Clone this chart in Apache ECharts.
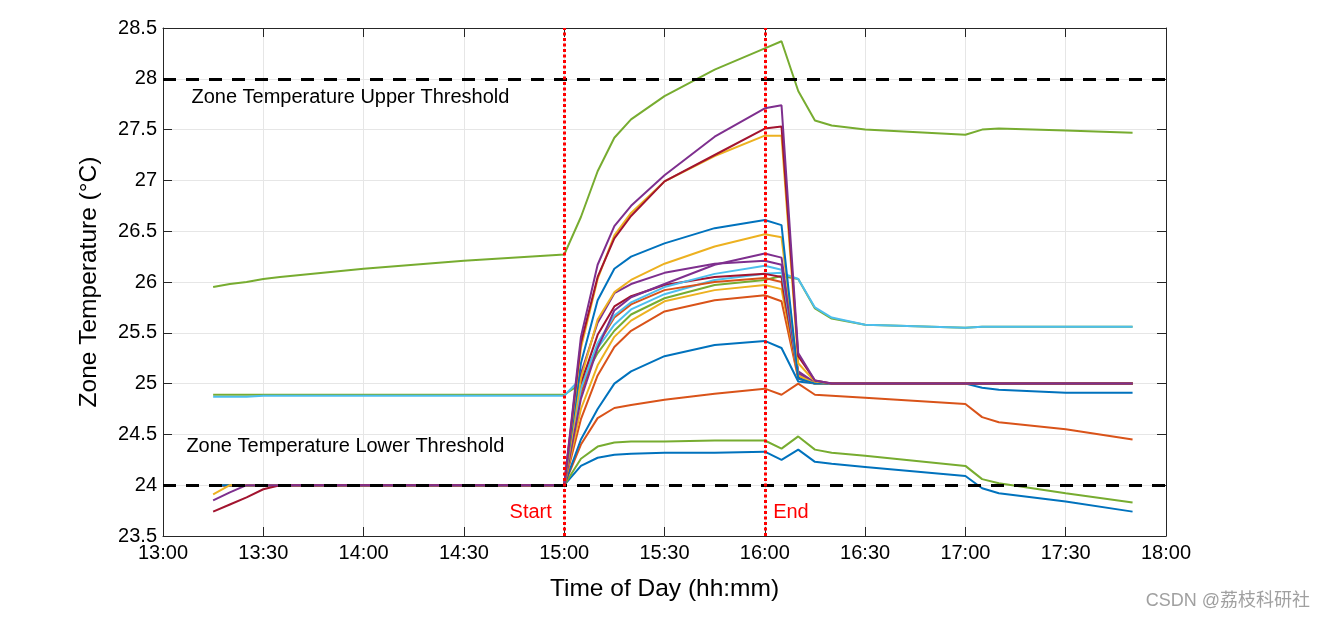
<!DOCTYPE html>
<html><head><meta charset="utf-8">
<script src="https://cdn.jsdelivr.net/npm/echarts@6/dist/echarts.min.js"></script>
<style>html,body{margin:0;padding:0;background:#fff}#c{width:1325px;height:620px}</style>
</head><body><div id="c"></div>
<script>
// ---- data ----
const times = ['13:15','13:20','13:25','13:30','13:35','14:00','14:30','15:00','15:05','15:10','15:15','15:20','15:30','15:45','16:00','16:05','16:10','16:15','16:20','16:30','17:00','17:05','17:10','17:30','17:50'];
const xTickLabels = ['13:00','13:30','14:00','14:30','15:00','15:30','16:00','16:30','17:00','17:30','18:00'];
const yTickLabels = ['23.5','24','24.5','25','25.5','26','26.5','27','27.5','28','28.5'];

const greenTop   = [25.95,25.98,26.00,26.03,26.05,26.13,26.21,26.27, 26.64,27.09,27.42,27.60,27.83,28.09,28.30,28.37, 27.88,27.59,27.54,27.50, 27.45,27.50,27.51,27.49,27.47];
const purpleTop  = [23.85,23.93,24.00,24.00,24.00,24.00,24.00,24.00, 25.46,26.17,26.55,26.75,27.05,27.43,27.71,27.74, 25.30,25.03,25.00,25.00, 25.00,25.00,25.00,25.00,25.00];
const darkRedTop = [23.74,23.81,23.88,23.96,24.00,24.00,24.00,24.00, 25.40,26.05,26.43,26.65,26.99,27.25,27.51,27.53, 25.27,25.03,25.00,25.00, 25.00,25.00,25.00,25.00,25.00];
const yellowTop  = [23.91,24.00,24.00,24.00,24.00,24.00,24.00,24.00, 25.35,26.03,26.46,26.68,26.99,27.24,27.44,27.44, 25.20,25.02,25.00,25.00, 25.00,25.00,25.00,25.00,25.00];
const blue1      = [24.00,24.00,24.00,24.00,24.00,24.00,24.00,24.00, 25.20,25.82,26.13,26.25,26.38,26.53,26.61,26.56, 25.05,25.00,25.00,25.00, 25.00,25.00,25.00,25.00,25.00];
const yellow2    = [24.00,24.00,24.00,24.00,24.00,24.00,24.00,24.00, 25.05,25.63,25.90,26.02,26.18,26.35,26.47,26.44, 25.08,25.00,25.00,25.00, 25.00,25.00,25.00,25.00,25.00];
const purpleB    = [24.00,24.00,24.00,24.00,24.00,24.00,24.00,24.00, 24.85,25.35,25.72,25.85,25.98,26.17,26.28,26.24, 25.12,25.01,25.00,25.00, 25.00,25.00,25.00,25.00,25.00];
const purpleA    = [24.00,24.00,24.00,24.00,24.00,24.00,24.00,24.00, 25.10,25.60,25.89,25.98,26.09,26.18,26.21,26.17, 25.10,25.01,25.00,25.00, 25.00,25.00,25.00,25.00,25.00];
const lightBlue1 = [24.00,24.00,24.00,24.00,24.00,24.00,24.00,24.00, 24.95,25.40,25.67,25.80,25.95,26.08,26.16,26.12, 25.08,25.00,25.00,25.00, 25.00,25.00,25.00,25.00,25.00];
const darkRed2   = [24.00,24.00,24.00,24.00,24.00,24.00,24.00,24.00, 25.00,25.48,25.76,25.86,25.97,26.05,26.08,26.05, 25.07,25.00,25.00,25.00, 25.00,25.00,25.00,25.00,25.00];
const orange2    = [24.00,24.00,24.00,24.00,24.00,24.00,24.00,24.00, 24.90,25.38,25.65,25.78,25.92,26.00,26.04,26.00, 25.06,25.00,25.00,25.00, 25.00,25.00,25.00,25.00,25.00];
const lightBlue2 = [24.87,24.87,24.87,24.88,24.88,24.88,24.88,24.88, 25.05,25.35,25.58,25.73,25.88,26.02,26.08,26.09, 26.03,25.75,25.65,25.58, 25.55,25.56,25.56,25.56,25.56];
const green2     = [24.89,24.89,24.89,24.89,24.89,24.89,24.89,24.89, 25.00,25.30,25.52,25.68,25.84,25.97,26.02,26.06, 26.03,25.74,25.64,25.58, 25.55,25.56,25.56,25.56,25.56];
const yellow3    = [24.00,24.00,24.00,24.00,24.00,24.00,24.00,24.00, 24.75,25.18,25.46,25.62,25.81,25.92,25.97,25.93, 25.06,25.00,25.00,25.00, 25.00,25.00,25.00,25.00,25.00];
const orange3    = [24.00,24.00,24.00,24.00,24.00,24.00,24.00,24.00, 24.65,25.08,25.36,25.52,25.71,25.82,25.87,25.81, 25.05,25.00,25.00,25.00, 25.00,25.00,25.00,25.00,25.00];
const blue2      = [24.00,24.00,24.00,24.00,24.00,24.00,24.00,24.00, 24.45,24.75,25.00,25.12,25.27,25.38,25.42,25.35, 25.02,25.00,25.00,25.00, 25.00,24.96,24.94,24.91,24.91];
const orange4    = [24.00,24.00,24.00,24.00,24.00,24.00,24.00,24.00, 24.40,24.66,24.76,24.79,24.84,24.90,24.95,24.89, 25.00,24.89,24.88,24.86, 24.80,24.67,24.62,24.55,24.45];
const green3     = [24.00,24.00,24.00,24.00,24.00,24.00,24.00,24.00, 24.26,24.38,24.42,24.43,24.43,24.44,24.44,24.36, 24.48,24.35,24.32,24.29, 24.19,24.06,24.02,23.92,23.83];
const blue3      = [24.00,24.00,24.00,24.00,24.00,24.00,24.00,24.00, 24.19,24.27,24.30,24.31,24.32,24.32,24.33,24.25, 24.35,24.23,24.21,24.18, 24.09,23.97,23.92,23.84,23.74];

const upperThreshold = 28;
const lowerThreshold = 24;
const startTime = '15:00';
const endTime = '16:00';

// ---- colours (MATLAB default order) ----
const C = {blue:'#0072BD', orange:'#D95319', yellow:'#EDB120', purple:'#7E2F8E', green:'#77AC30', cyan:'#4DBEEE', red:'#A2142F'};

const seriesDefs = [
  ['blue3', blue3, C.blue], ['green3', green3, C.green], ['orange4', orange4, C.orange],
  ['blue2', blue2, C.blue], ['orange3', orange3, C.orange], ['yellow3', yellow3, C.yellow],
  ['green2', green2, C.green], ['lightBlue2', lightBlue2, C.cyan], ['orange2', orange2, C.orange],
  ['darkRed2', darkRed2, C.red], ['lightBlue1', lightBlue1, C.cyan], ['purpleA', purpleA, C.purple],
  ['purpleB', purpleB, C.purple], ['yellow2', yellow2, C.yellow], ['blue1', blue1, C.blue],
  ['yellowTop', yellowTop, C.yellow], ['darkRedTop', darkRedTop, C.red], ['purpleTop', purpleTop, C.purple],
  ['greenTop', greenTop, C.green]
];

function toHours(s){ const p = s.split(':'); return +p[0] + parseFloat(p[1])/60; }
function fmtTime(v){ const h = Math.floor(v + 1e-9); const m = Math.round((v - h)*60); return h + ':' + (m < 10 ? '0' + m : m); }

const FONT = 'Liberation Sans, Arial, Helvetica, sans-serif';

const series = seriesDefs.map(([name, vals, color]) => ({
  name, type: 'line', xAxisIndex: 0, yAxisIndex: 0,
  data: times.map((t, i) => [toHours(t), vals[i]]),
  showSymbol: false, symbol: 'none', smooth: false,
  lineStyle: {color, width: 2}, itemStyle: {color},
  animation: false, z: 3
}));

series.push({
  name: 'refs', type: 'line', data: [], animation: false,
  markLine: {
    silent: true, symbol: 'none', animation: false,
    label: {show: false},
    data: [
      {yAxis: upperThreshold, lineStyle: {color: '#000', width: 3, type: [13, 10]}},
      {yAxis: lowerThreshold, lineStyle: {color: '#000', width: 3, type: [13, 10]}},
      {xAxis: toHours(startTime), lineStyle: {color: '#ff0000', width: 3, type: [3, 2.5]}},
      {xAxis: toHours(endTime), lineStyle: {color: '#ff0000', width: 3, type: [3, 2.5]}}
    ]
  },
  z: 4
});

const chart = echarts.init(document.getElementById('c'), null, {renderer: 'canvas'});
const xMin = toHours(xTickLabels[0]), xMax = toHours(xTickLabels[xTickLabels.length-1]);
const yMin = +yTickLabels[0], yMax = +yTickLabels[yTickLabels.length-1];

const axisLineStyle = {color: '#262626', width: 1};
chart.setOption({
  animation: false,
  backgroundColor: '#fff',
  grid: {left: 163, right: 159, top: 28, bottom: 84, containLabel: false},
  xAxis: [{
    type: 'value', min: xMin, max: xMax, interval: 0.5,
    name: 'Time of Day (hh:mm)', nameLocation: 'middle', nameGap: 41,
    nameTextStyle: {fontSize: 24.5, color: '#000', fontFamily: FONT},
    axisLine: {show: true, onZero: false, lineStyle: axisLineStyle},
    axisTick: {show: true, inside: true, length: 9, lineStyle: axisLineStyle},
    axisLabel: {fontSize: 20, color: '#000', fontFamily: FONT, margin: 7, formatter: fmtTime},
    splitLine: {show: true, lineStyle: {color: '#e6e6e6', width: 1}}
  }, {
    type: 'value', position: 'top', min: xMin, max: xMax, interval: 0.5,
    axisLine: {show: true, onZero: false, lineStyle: axisLineStyle},
    axisTick: {show: true, inside: true, length: 9, lineStyle: axisLineStyle},
    axisLabel: {show: false}, splitLine: {show: false}
  }],
  yAxis: [{
    type: 'value', min: yMin, max: yMax, interval: 0.5,
    name: 'Zone Temperature (°C)', nameLocation: 'middle', nameGap: 61, nameRotate: 90,
    nameTextStyle: {fontSize: 24.5, color: '#000', fontFamily: FONT},
    axisLine: {show: true, onZero: false, lineStyle: axisLineStyle},
    axisTick: {show: true, inside: true, length: 9, lineStyle: axisLineStyle},
    axisLabel: {fontSize: 20, color: '#000', fontFamily: FONT, margin: 6, formatter: v => yTickLabels[Math.round((v - yMin)/0.5)]},
    splitLine: {show: true, lineStyle: {color: '#e6e6e6', width: 1}}
  }, {
    type: 'value', position: 'right', min: yMin, max: yMax, interval: 0.5,
    axisLine: {show: true, onZero: false, lineStyle: axisLineStyle},
    axisTick: {show: true, inside: true, length: 9, lineStyle: axisLineStyle},
    axisLabel: {show: false}, splitLine: {show: false}
  }],
  series
});

// annotations anchored in data coordinates
const annots = [
  {text: 'Zone Temperature Upper Threshold', at: ['13:08.5', 27.82], align: 'left', color: '#000', size: 20},
  {text: 'Zone Temperature Lower Threshold', at: ['13:07', 24.38], align: 'left', color: '#000', size: 20},
  {text: 'Start', at: ['14:56.3', 23.73], align: 'right', color: '#ff0000', size: 20},
  {text: 'End', at: ['16:02.5', 23.73], align: 'left', color: '#ff0000', size: 20}
];
const graphic = annots.map(a => {
  const px = chart.convertToPixel({gridIndex: 0}, [toHours(a.at[0]), a.at[1]]);
  return {type: 'text', x: px[0], y: px[1], z: 10, silent: true,
    style: {text: a.text, fill: a.color, font: a.size + 'px ' + FONT, textAlign: a.align, textVerticalAlign: 'middle'}};
});
graphic.push({type: 'text', right: 15, bottom: 10, z: 10, silent: true,
  style: {text: 'CSDN @荔枝科研社', fill: '#a0a0a0', font: '18px "Liberation Sans", "Noto Sans CJK SC", sans-serif'}});
chart.setOption({graphic});
</script>
</body></html>
